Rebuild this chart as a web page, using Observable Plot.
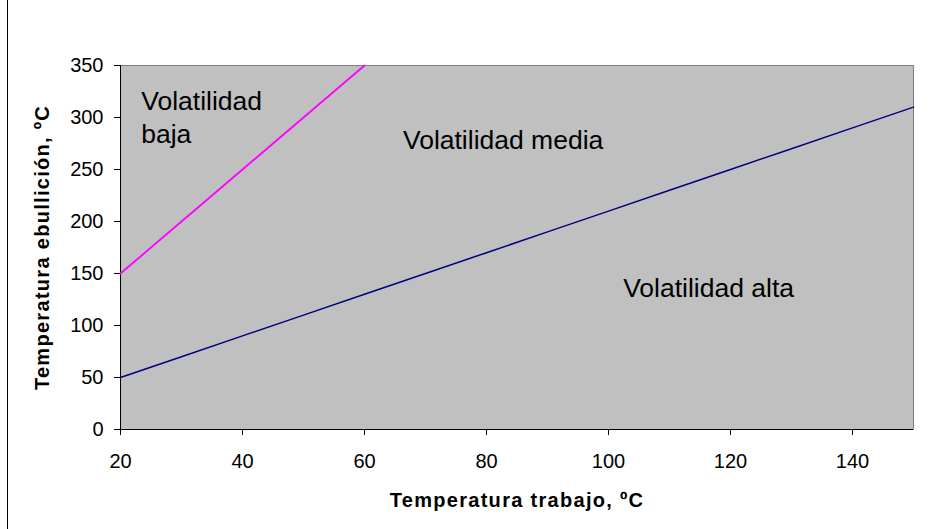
<!DOCTYPE html>
<html>
<head>
<meta charset="utf-8">
<script src="https://cdn.jsdelivr.net/npm/d3@7"></script>
<script src="https://cdn.jsdelivr.net/npm/@observablehq/plot@0.6"></script>
<style>
  html, body { margin: 0; padding: 0; background: #fff; }
  #wrap { position: relative; width: 935px; height: 529px; overflow: hidden; }
  #edge { position: absolute; left: 7px; top: 0; width: 1px; height: 529px; background: #000; }
  .axis-title text { letter-spacing: 1.3px; }
</style>
</head>
<body>
<div id="wrap"><div id="edge"></div></div>
<script>
// Data
const xTicks = [20, 40, 60, 80, 100, 120, 140];
const yTicks = [0, 50, 100, 150, 200, 250, 300, 350];

// Límite volatilidad alta / media (línea azul marino)
const altaX = [20, 30, 40, 50, 60, 70, 80, 90, 100, 110, 120, 130, 140, 150];
const altaY = [50, 70, 90, 110, 130, 150, 170, 190, 210, 230, 250, 270, 290, 310];

// Límite volatilidad media / baja (línea magenta)
const bajaX = [20, 30, 40, 50, 60];
const bajaY = [150, 200, 250, 300, 350];

const labelText = ["Volatilidad\nbaja", "Volatilidad media", "Volatilidad alta"];
const labelX = [23.4, 66.3, 102.4];
const labelY = [329, 291.5, 149.5];

const xTitle = "Temperatura trabajo, ºC";
const yTitle = "Temperatura ebullición, ºC";

const alta = altaX.map((x, i) => ({x, y: altaY[i]}));
const baja = bajaX.map((x, i) => ({x, y: bajaY[i]}));
const labels = labelText.map((t, i) => ({t, x: labelX[i], y: labelY[i]}));

const chart = Plot.plot({
  width: 935,
  height: 529,
  marginLeft: 120,
  marginRight: 22,
  marginTop: 65,
  marginBottom: 100,
  style: {fontFamily: "'Liberation Sans', Arial, sans-serif", fontSize: "20px", color: "#000", background: "transparent"},
  x: {domain: [20, 150]},
  y: {domain: [0, 350]},
  marks: [
    Plot.frame({fill: "#c0c0c0", stroke: "#808080"}),
    Plot.axisX({ticks: xTicks, tickSize: 6, tickPadding: 18, label: null, fontSize: 20, stroke: "#000"}),
    Plot.axisY({ticks: yTicks, tickSize: 6, tickPadding: 11, label: null, fontSize: 20, stroke: "#000"}),
    Plot.ruleX([20], {stroke: "#000"}),
    Plot.ruleY([0], {stroke: "#000"}),
    Plot.line(alta, {x: "x", y: "y", stroke: "#000080", strokeWidth: 1.5}),
    Plot.line(baja, {x: "x", y: "y", stroke: "#ff00ff", strokeWidth: 1.8}),
    Plot.text(labels, {x: "x", y: "y", text: "t", textAnchor: "start", lineAnchor: "top", lineHeight: 1.22, fontSize: 26.5, fill: "#000"}),
    Plot.text([xTitle], {frameAnchor: "bottom", dy: 77, text: d => d, textAnchor: "middle", lineAnchor: "bottom", fontSize: 20, fontWeight: "bold", fill: "#000", className: "axis-title"}),
    Plot.text([yTitle], {frameAnchor: "left", dx: -78, text: d => d, rotate: -90, textAnchor: "middle", lineAnchor: "middle", fontSize: 20, fontWeight: "bold", fill: "#000", className: "axis-title"})
  ]
});
chart.style.position = "absolute";
chart.style.left = "0";
chart.style.top = "0";
document.getElementById("wrap").appendChild(chart);
</script>
</body>
</html>
